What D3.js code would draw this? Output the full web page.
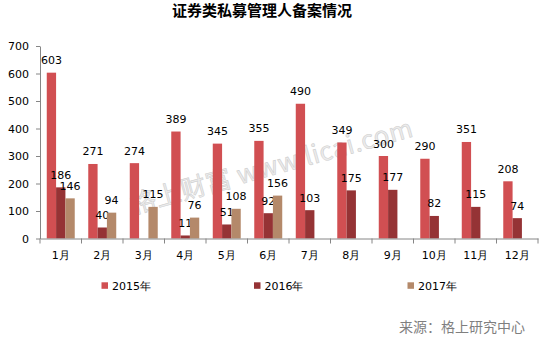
<!DOCTYPE html>
<html><head><meta charset="utf-8">
<script src="https://cdn.jsdelivr.net/npm/d3@7"></script>
<style>body{margin:0;background:#fff}svg{display:block}</style>
</head><body>
<script>
const months = ["1月","2月","3月","4月","5月","6月","7月","8月","9月","10月","11月","12月"];
const seriesNames = ["2015年","2016年","2017年"];
const v2015 = [603,271,274,389,345,355,490,349,300,290,351,208];
const v2016 = [186,40,null,11,51,92,103,175,177,82,115,74];
const v2017 = [146,94,115,76,108,156,null,null,null,null,null,null];
const yTicks = [0,100,200,300,400,500,600,700];
const colors = ["#d14f52","#953335","#b4896a"];
const title = "证券类私募管理人备案情况";
const source = "来源：格上研究中心";
const watermark = "格上财富 www.licai.com";

const W=544,H=340;
const svg=d3.select("body").append("svg").attr("width",W).attr("height",H);
const font="DejaVu Sans, Verdana, sans-serif";
const cjk="'Noto Sans CJK SC', sans-serif";

const x0=d3.scaleBand().domain(months).range([40,538]);
const band=x0.bandwidth();
const bw=band/(3+1.45);
const x1=d3.scaleBand().domain(seriesNames).range([0,3*bw]);
const y=d3.scaleLinear().domain([0,700]).range([238.5,46]);

const all=[v2015,v2016,v2017];

// title
svg.append("text").attr("x",262).attr("y",16).attr("text-anchor","middle")
  .attr("font-family",cjk).attr("font-weight","bold").attr("font-size",15).attr("fill","#000").text(title);

// watermark
svg.append("text").attr("transform","translate(274,175) rotate(-15.5)").attr("text-anchor","middle")
  .attr("font-family",cjk).attr("font-size",25.5).attr("letter-spacing",0.6).attr("fill","#ececec").attr("stroke","#cfcfcf")
  .attr("stroke-width",0.6).text(watermark);

// bars
seriesNames.forEach((s,si)=>{
  const data=months.map((m,i)=>({m,v:all[si][i]})).filter(d=>d.v!==null);
  svg.append("g").selectAll("rect").data(data).join("rect")
    .attr("x",d=>x0(d.m)+(band-3*bw)/2+x1(s))
    .attr("y",d=>y(d.v)).attr("width",x1.bandwidth())
    .attr("height",d=>y(0)-y(d.v)).attr("fill",colors[si]);
  svg.append("g").selectAll("text").data(data).join("text")
    .attr("x",d=>x0(d.m)+(band-3*bw)/2+x1(s)+x1.bandwidth()/2)
    .attr("y",d=>y(d.v)-8.5).attr("text-anchor","middle")
    .attr("font-family",font).attr("font-size",11).attr("fill","#000").text(d=>d.v);
});

// y axis
const ya=svg.append("g").attr("transform","translate(40,0)")
  .call(d3.axisLeft(y).tickValues(yTicks).tickSize(4).tickPadding(7).tickSizeOuter(0));
ya.select(".domain").attr("stroke","#868686");
ya.selectAll(".tick line").attr("stroke","#868686");
ya.selectAll("text").attr("font-family",font).attr("font-size",11).attr("fill","#000");

// x axis
const xa=svg.append("g").attr("transform",`translate(0,${y(0)})`)
  .call(d3.axisBottom(x0).tickSize(0).tickPadding(13));
xa.select(".domain").attr("stroke","#868686");
xa.selectAll("text").attr("font-family",font).attr("font-size",11).attr("fill","#000");
const bounds=months.map(m=>x0(m)).concat([x0.range()[1]]);
svg.append("g").selectAll("line").data(bounds).join("line")
  .attr("x1",d=>d).attr("x2",d=>d).attr("y1",y(0)).attr("y2",y(0)+5).attr("stroke","#868686");

// legend
const legX=[101.5,254,407.5];
seriesNames.forEach((s,i)=>{
  svg.append("rect").attr("x",legX[i]).attr("y",282.3).attr("width",6.5).attr("height",6.5).attr("fill",colors[i]);
  svg.append("text").attr("x",legX[i]+10.5).attr("y",290).attr("font-family",font).attr("font-size",11)
    .attr("fill","#000").text(s);
});

// source
svg.append("text").attr("x",525).attr("y",332).attr("text-anchor","end")
  .attr("font-family",cjk).attr("font-size",14).attr("fill","#7f7f7f").text(source);
</script>
</body></html>
